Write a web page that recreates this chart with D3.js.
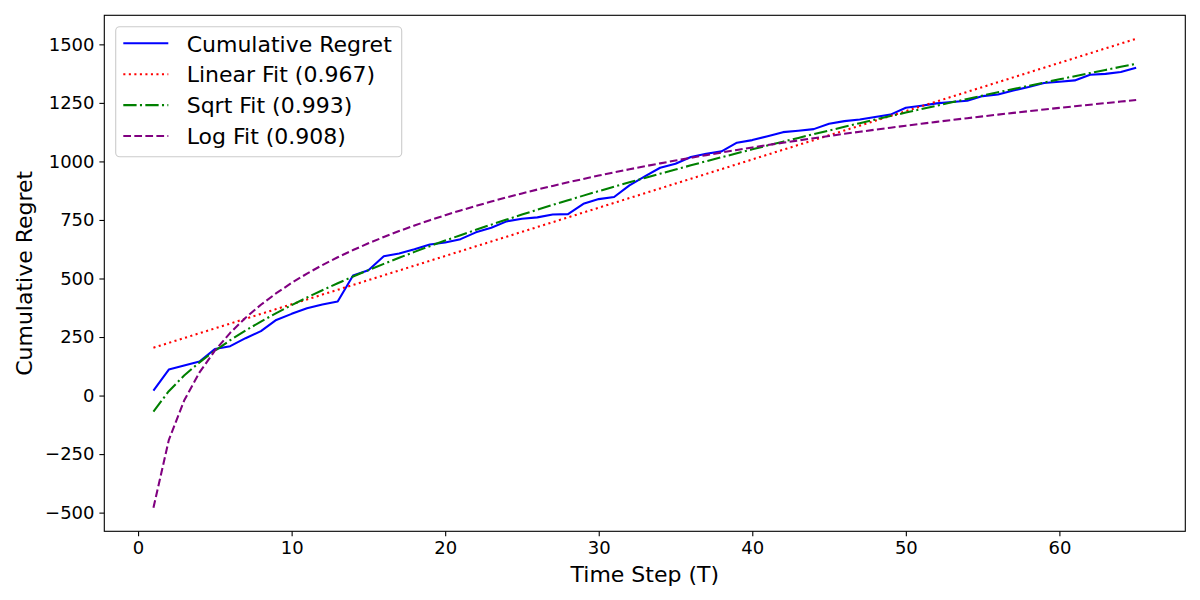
<!DOCTYPE html>
<html>
<head>
<meta charset="utf-8">
<script src="https://cdn.jsdelivr.net/npm/d3@7"></script>
<style>
  html, body { margin: 0; padding: 0; background: #fff; }
  svg { display: block; font-family: "DejaVu Sans", sans-serif; }
</style>
</head>
<body>
<svg id="chart" width="1200" height="600"></svg>
<script>
// ---- data ----
const timeSteps = d3.range(1, 66);
const regret = [21,111,128,145,199,211,245,275,323,349,373,389,402,513,535,595,607,625,645,654,
  668,697,717,744,755,761,773,775,819,839,848,898,936,973,990,1019,1033,1043,1080,1091,
  1108,1125,1131,1138,1161,1172,1179,1190,1200,1229,1238,1248,1254,1259,1279,1286,1303,1318,1335,1340,
  1346,1370,1374,1382,1400];
const seriesLabels = ["Cumulative Regret", "Linear Fit (0.967)", "Sqrt Fit (0.993)", "Log Fit (0.908)"];
const xTicks = [0, 10, 20, 30, 40, 50, 60];
const yTicks = [-500, -250, 0, 250, 500, 750, 1000, 1250, 1500];

// least-squares fit y = a + b*f(x) of the regret data
function fit(f) {
  const fx = timeSteps.map(f);
  const mx = d3.mean(fx), my = d3.mean(regret);
  let sxy = 0, sxx = 0;
  fx.forEach((v, i) => { sxy += (v - mx) * (regret[i] - my); sxx += (v - mx) * (v - mx); });
  const b = sxy / sxx, a = my - b * mx;
  return fx.map(v => a + b * v);
}
const linearFit = fit(x => x);
const sqrtFit = fit(x => Math.sqrt(x));
const logFit = fit(x => Math.log(x));

const series = [
  { label: seriesLabels[0], values: regret, color: "#0000ff", dash: null },
  { label: seriesLabels[1], values: linearFit, color: "#ff0000", dash: "2.08,3.44" },
  { label: seriesLabels[2], values: sqrtFit, color: "#008000", dash: "13.3,3.33,2.08,3.33" },
  { label: seriesLabels[3], values: logFit, color: "#800080", dash: "7.7,3.33" }
];

// ---- layout ----
const L = 104.3, R = 1185.3, T = 15.3, B = 531.3;
const svg = d3.select("#chart");

const xmin = d3.min(timeSteps), xmax = d3.max(timeSteps);
const xpad = (xmax - xmin) * 0.05;
const allY = series.flatMap(s => s.values);
const ymin = d3.min(allY), ymax = d3.max(allY);
const ypad = (ymax - ymin) * 0.05;

const x = d3.scaleLinear().domain([xmin - xpad, xmax + xpad]).range([L, R]);
const y = d3.scaleLinear().domain([ymin - ypad, ymax + ypad]).range([B, T]);

// lines
const clip = svg.append("defs").append("clipPath").attr("id", "clip")
  .append("rect").attr("x", L).attr("y", T).attr("width", R - L).attr("height", B - T);

const line = d3.line().x((d, i) => x(timeSteps[i])).y(d => y(d));
const g = svg.append("g").attr("clip-path", "url(#clip)");
series.forEach(s => {
  g.append("path")
    .attr("d", line(s.values))
    .attr("fill", "none")
    .attr("stroke", s.color)
    .attr("stroke-width", 2.08)
    .attr("stroke-dasharray", s.dash)
    .attr("stroke-linejoin", "round");
});

// axes
const xAxis = d3.axisBottom(x).tickValues(xTicks).tickSize(4.9).tickSizeOuter(0).tickPadding(4.9);
const yAxis = d3.axisLeft(y).tickValues(yTicks).tickSize(4.9).tickSizeOuter(0).tickPadding(4.9)
  .tickFormat(d => d < 0 ? "\u2212" + Math.abs(d) : String(d));

const gx = svg.append("g").attr("transform", `translate(0,${B})`).call(xAxis);
const gy = svg.append("g").attr("transform", `translate(${L},0)`).call(yAxis);
[gx, gy].forEach(a => {
  a.select(".domain").remove();
  a.selectAll("line").attr("stroke", "#000").attr("stroke-width", 1.1);
  a.selectAll("text").attr("font-size", 18).attr("fill", "#000")
    .attr("font-family", "DejaVu Sans, sans-serif");
});

// frame
svg.append("rect").attr("x", L).attr("y", T).attr("width", R - L).attr("height", B - T)
  .attr("fill", "none").attr("stroke", "#000").attr("stroke-width", 1.1);

// axis labels
svg.append("text").attr("x", (L + R) / 2).attr("y", 581.5).attr("text-anchor", "middle")
  .attr("font-size", 22).text("Time Step (T)");
svg.append("text").attr("transform", `translate(31.5,${(T + B) / 2}) rotate(-90)`)
  .attr("text-anchor", "middle").attr("font-size", 22).text("Cumulative Regret");

// legend
const lg = svg.append("g");
lg.append("rect").attr("x", 115.7).attr("y", 26.7).attr("width", 286).attr("height", 130)
  .attr("rx", 4).attr("ry", 4)
  .attr("fill", "#fff").attr("fill-opacity", 0.8)
  .attr("stroke", "#cccccc").attr("stroke-width", 1.1);
series.forEach((s, i) => {
  const cy = 43.3 + i * 30.9;
  lg.append("line").attr("x1", 123.3).attr("x2", 168.3).attr("y1", cy).attr("y2", cy)
    .attr("stroke", s.color).attr("stroke-width", 2.08).attr("stroke-dasharray", s.dash);
  lg.append("text").attr("x", 186.7).attr("y", cy + 8.2).attr("font-size", 22).text(s.label);
});
</script>
</body>
</html>
